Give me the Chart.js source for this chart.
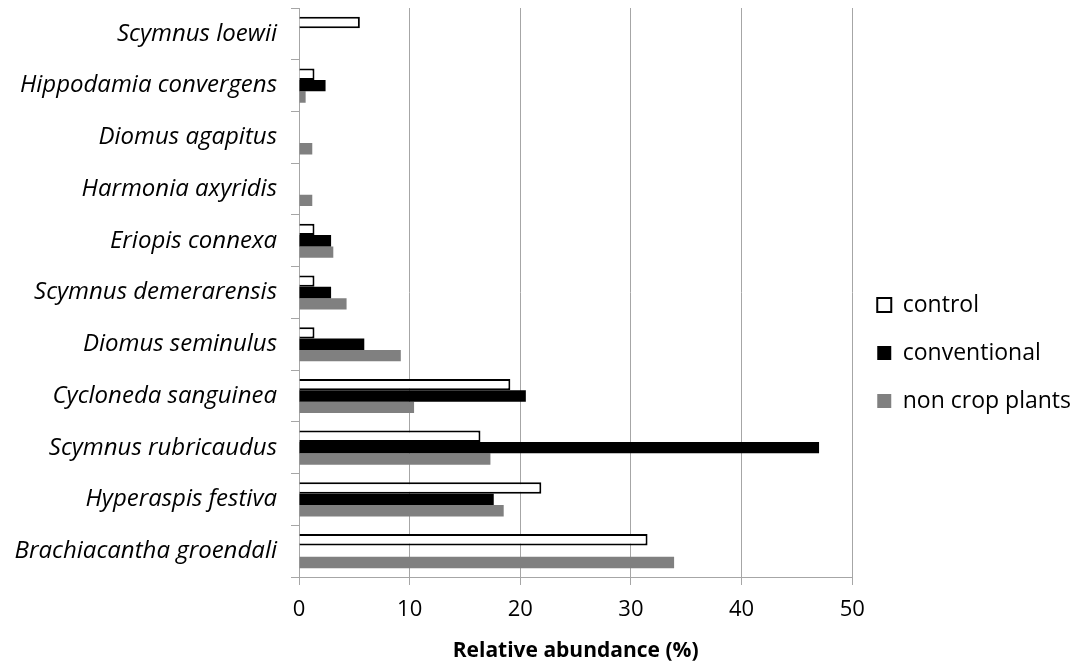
<!DOCTYPE html>
<html>
<head>
<meta charset="utf-8">
<script src="https://cdn.jsdelivr.net/npm/chart.js@4"></script>
<style>
  html, body { margin: 0; padding: 0; background: #fff; }
  #wrap { width: 1086px; height: 668px; }
</style>
</head>
<body>
<div id="wrap"><canvas id="chart"></canvas></div>
<script>
// species, top to bottom
const species = ['Scymnus loewii', 'Hippodamia convergens', 'Diomus agapitus', 'Harmonia axyridis',
  'Eriopis connexa', 'Scymnus demerarensis', 'Diomus seminulus', 'Cycloneda sanguinea',
  'Scymnus rubricaudus', 'Hyperaspis festiva', 'Brachiacantha groendali'];

// relative abundance (%)
const control = [5.5, 1.4, 0, 0, 1.4, 1.4, 1.4, 19.1, 16.4, 21.9, 31.5];
const conventional = [0, 2.4, 0, 0, 2.9, 2.9, 5.9, 20.5, 47.0, 17.6, 0];
const nonCrop = [0, 0.6, 1.2, 1.2, 3.1, 4.3, 9.2, 10.4, 17.3, 18.5, 33.9];

const xTicks = [0, 10, 20, 30, 40, 50];

const font = '"Open Sans", "Noto Sans", sans-serif';
const gridGray = '#a6a6a6';

// shifts the legend block down a little, like the original
const legendShift = {
  id: 'legendShift',
  afterUpdate(chart) {
    const lg = chart.legend;
    if (lg && lg.legendHitBoxes) {
      lg.top += 15;
      lg.bottom += 15;
      lg.legendHitBoxes.forEach(b => { b.top += 15; b.left += 3; });
    }
  }
};

const chart = new Chart(document.getElementById('chart'), {
  type: 'bar',
  data: {
    labels: species,
    datasets: [{
      label: 'control',
      data: control,
      backgroundColor: '#ffffff',
      borderColor: '#000000',
      borderWidth: 2
    }, {
      label: 'conventional',
      data: conventional,
      backgroundColor: '#000000',
      borderColor: '#000000',
      borderWidth: 0
    }, {
      label: 'non crop plants',
      data: nonCrop,
      backgroundColor: '#808080',
      borderColor: '#808080',
      borderWidth: 0
    }]
  },
  options: {
    indexAxis: 'y',
    responsive: true,
    maintainAspectRatio: false,
    animation: false,
    categoryPercentage: 0.66,
    barPercentage: 1.0,
    layout: { padding: { top: 8, right: 5, left: 0, bottom: 0 } },
    plugins: {
      tooltip: { enabled: false },
      legend: {
        position: 'right',
        labels: {
          color: '#000',
          font: { family: font, size: 23 },
          boxWidth: 14,
          boxHeight: 14,
          padding: 25
        }
      }
    },
    scales: {
      x: {
        min: 0,
        max: 50,
        afterBuildTicks: (axis) => { axis.ticks = xTicks.map(v => ({ value: v })); },
        afterFit: (axis) => { axis.height = 91; },
        grid: { color: gridGray, lineWidth: 1, tickLength: 8, drawTicks: true },
        border: { color: gridGray, width: 1 },
        ticks: { color: '#000', font: { family: font, size: 22 }, padding: 12 },
        title: {
          display: true,
          text: 'Relative abundance (%)',
          color: '#000',
          font: { family: font, size: 21, weight: 'bold' },
          padding: { top: 4, bottom: 4 }
        }
      },
      y: {
        afterFit: (axis) => {
          axis.width = 299;
          axis.paddingTop = 0;
          axis.paddingBottom = 0;
        },
        grid: { display: true, drawOnChartArea: false, color: gridGray, tickLength: 8, offset: true },
        border: { color: gridGray, width: 1 },
        ticks: { color: '#000', font: { family: font, size: 24, style: 'italic' }, padding: 14 }
      }
    }
  },
  plugins: [legendShift]
});
</script>
</body>
</html>
